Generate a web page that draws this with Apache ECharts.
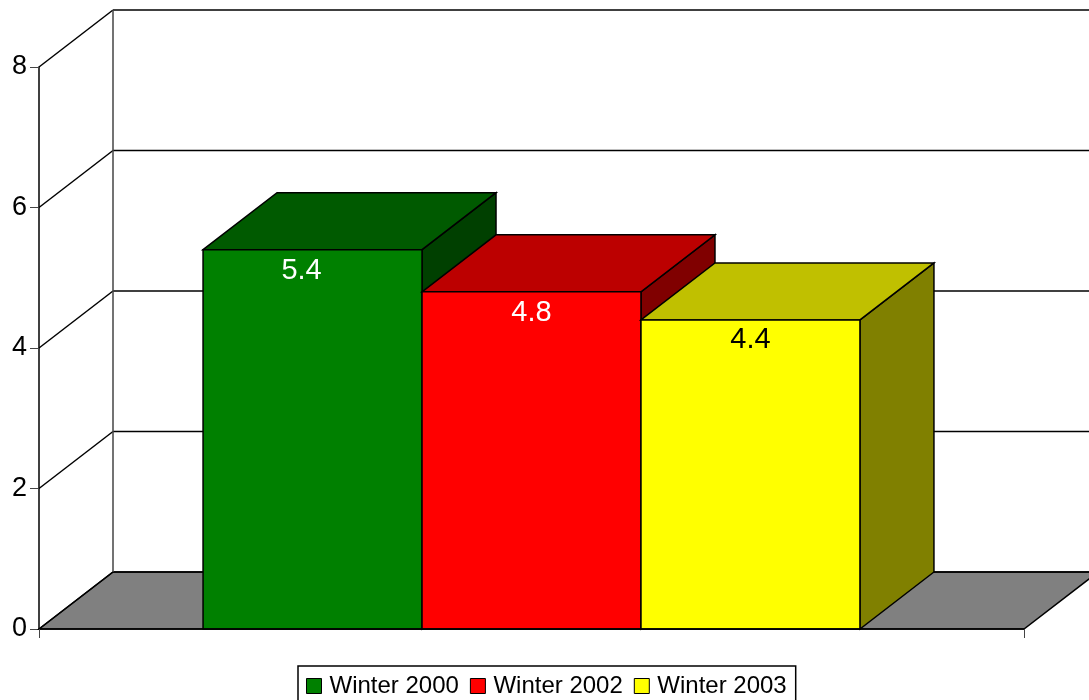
<!DOCTYPE html>
<html>
<head>
<meta charset="utf-8">
<style>
html, body { margin: 0; padding: 0; background: #fff; overflow: hidden; }
#main { width: 1089px; height: 700px; }
</style>
<script src="https://cdn.jsdelivr.net/npm/echarts@6/dist/echarts.min.js"></script>
</head>
<body>
<div id="main"></div>
<script>
var categories = [''];
var seriesNames = ['Winter 2000', 'Winter 2002', 'Winter 2003'];
var seriesValues = [5.4, 4.8, 4.4];
var tickValues = [0, 2, 4, 6, 8];

// face colours per bar
var frontColors = ['#008000', '#ff0000', '#ffff00'];
var topColors = ['#005a00', '#bc0000', '#c0c000'];
var sideColors = ['#004000', '#800000', '#808000'];
var labelColors = ['#fff', '#fff', '#000'];
var labelShift = [-11, 0, 0];
var labelDrop = [21, 21, 20];

// 3d look: how far the back of the chart is pushed
var depthX = 74;
var depthY = -57;
var barFraction = 0.2223;
var lineStyle = { stroke: '#000', lineWidth: 1.5, fill: null };

var myChart = echarts.init(document.getElementById('main'));

function poly(points, color) {
    return {
        type: 'polygon',
        shape: { points: points },
        style: { fill: color, stroke: '#000', lineWidth: 1.5 }
    };
}

function line(x1, y1, x2, y2) {
    return {
        type: 'line',
        shape: { x1: x1, y1: y1, x2: x2, y2: y2 },
        style: lineStyle
    };
}

// side wall diagonal + back wall line, one for each tick
function renderWall(params, api) {
    var p = api.coord([0, api.value(1)]);
    var band = api.size([1, 0])[0];
    var left = p[0] - band / 2;
    var children = [
        line(left, p[1], left + depthX, p[1] + depthY),
        line(left + depthX, p[1] + depthY, left + band + depthX, p[1] + depthY)
    ];
    if (api.value(1) === 0) {
        children.unshift(poly([
            [left, p[1]],
            [left + depthX, p[1] + depthY],
            [left + band + depthX, p[1] + depthY],
            [left + band, p[1]]
        ], '#808080'));
    }
    if (api.value(1) === tickValues[tickValues.length - 1]) {
        var base = api.coord([0, 0]);
        children.push({
            type: 'line',
            shape: { x1: left + depthX, y1: base[1] + depthY, x2: left + depthX, y2: p[1] + depthY },
            style: { stroke: '#444', lineWidth: 1.5 }
        });
    }
    return { type: 'group', children: children };
}

function renderBar(index) {
    return function (params, api) {
        var val = api.value(1);
        var top = api.coord([0, val]);
        var base = api.coord([0, 0]);
        var w = api.size([1, 0])[0] * barFraction;
        var x0 = top[0] + (index - 1) * w - w / 2;
        var x1 = x0 + w;
        return {
            type: 'group',
            children: [
                poly([[x1, top[1]], [x1 + depthX, top[1] + depthY], [x1 + depthX, base[1] + depthY], [x1, base[1]]], sideColors[index]),
                poly([[x0, top[1]], [x0 + depthX, top[1] + depthY], [x1 + depthX, top[1] + depthY], [x1, top[1]]], topColors[index]),
                poly([[x0, top[1]], [x1, top[1]], [x1, base[1]], [x0, base[1]]], frontColors[index]),
                {
                    type: 'text',
                    x: (x0 + x1) / 2 + labelShift[index],
                    y: top[1] + labelDrop[index],
                    style: {
                        text: String(val),
                        fill: labelColors[index],
                        font: '29px "Liberation Sans"',
                        align: 'center',
                        verticalAlign: 'middle'
                    }
                }
            ]
        };
    };
}

var series = [{
    name: 'wall',
    type: 'custom',
    renderItem: renderWall,
    silent: true,
    data: tickValues.map(function (t) { return [0, t]; }),
    z: 1
}];

for (var i = 0; i < seriesNames.length; i++) {
    series.push({
        name: seriesNames[i],
        type: 'custom',
        renderItem: renderBar(i),
        itemStyle: { color: frontColors[i] },
        data: [[0, seriesValues[i]]],
        z: 3 + i
    });
}

var option = {
    animation: false,
    backgroundColor: '#fff',
    grid: { left: 39, right: 65, top: 67, bottom: 71 },
    legend: {
        data: seriesNames,
        left: 298,
        top: 666,
        padding: [8, 9, 8, 8],
        borderColor: '#000',
        borderWidth: 1.5,
        itemWidth: 15,
        itemHeight: 15,
        itemGap: 11,
        icon: 'rect',
        itemStyle: { borderColor: '#000', borderWidth: 1 },
        textStyle: { color: '#000', fontSize: 24, fontFamily: 'Liberation Sans', padding: [0, 0, 0, 3] }
    },
    xAxis: {
        type: 'category',
        data: categories,
        axisLine: { lineStyle: { color: '#000', width: 1.5 } },
        axisTick: { show: true, length: 9, lineStyle: { color: '#444', width: 1 } },
        axisLabel: { show: false },
        z: 10
    },
    yAxis: {
        type: 'value',
        min: 0,
        max: 8,
        interval: 2,
        axisLine: { show: true, lineStyle: { color: '#000', width: 1.5 } },
        axisTick: { show: true, length: 9, lineStyle: { color: '#444', width: 1 } },
        axisLabel: { color: '#000', fontSize: 27, fontFamily: 'Liberation Sans', margin: 12, padding: [2, 0, 0, 0] },
        splitLine: { show: false }
    },
    series: series
};

myChart.setOption(option);
</script>
</body>
</html>
